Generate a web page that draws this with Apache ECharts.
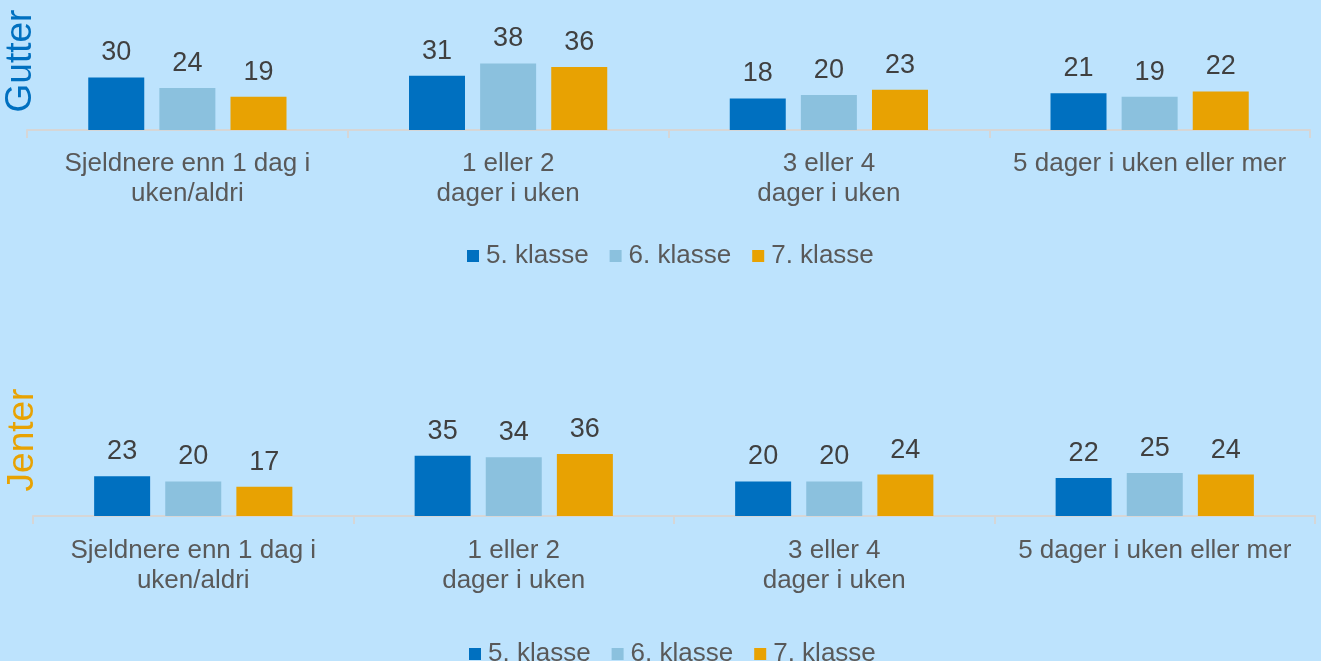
<!DOCTYPE html>
<html><head><meta charset="utf-8">
<script src="https://cdn.jsdelivr.net/npm/echarts@6/dist/echarts.min.js"></script>
<style>html,body{margin:0;padding:0;background:#BDE3FD;}#c{width:1321px;height:661px;}</style>
</head><body><div id="c"></div>
<script>
const categories = ['Sjeldnere enn 1 dag i\nuken/aldri', '1 eller 2\ndager i uken', '3 eller 4\ndager i uken', '5 dager i uken eller mer'];
const seriesNames = ['5. klasse', '6. klasse', '7. klasse'];
const gutter5 = [30, 31, 18, 21];
const gutter6 = [24, 38, 20, 19];
const gutter7 = [19, 36, 23, 22];
const jenter5 = [23, 35, 20, 22];
const jenter6 = [20, 34, 20, 25];
const jenter7 = [17, 36, 24, 24];
const colors = ['#0070C0', '#8BC1DE', '#E8A202'];

const font = 'Arial, "Liberation Sans", sans-serif';
const chart = echarts.init(document.getElementById('c'));
function xAx(gi, m){return {type:'category', gridIndex:gi, data:categories,
  axisLine:{lineStyle:{color:'#D6D6D6', width:2}},
  axisTick:{show:true, length:8, lineStyle:{color:'#D6D6D6', width:2}},
  axisLabel:{color:'#595959', fontSize:26, fontFamily:font, lineHeight:30, margin:m, interval:0}};}
function yAx(gi){return {type:'value', gridIndex:gi, min:0, max:40, show:false, splitLine:{show:false}};}
function bars(data, i, gi){return {name:seriesNames[i], type:'bar', xAxisIndex:gi, yAxisIndex:gi, data:data,
  barWidth:56, barGap:'27%', itemStyle:{color:colors[i]},
  label:{show:true, position:'top', distance:11, color:'#404040', fontSize:27, fontFamily:font}};}
const legendBase = {data:seriesNames, itemWidth:12, itemHeight:12, itemGap:21, icon:'rect',
  textStyle:{color:'#595959', fontSize:26, fontFamily:font, padding:[0,0,0,2]}};
chart.setOption({
  backgroundColor:'#BDE3FD',
  animation:false,
  color:colors,
  grid:[{left:27, right:11, top:60, height:70},{left:33, right:6, top:447, height:69}],
  xAxis:[xAx(0, 19), xAx(1, 20)],
  yAxis:[yAx(0), yAx(1)],
  legend:[Object.assign({top:238, left:462}, legendBase), Object.assign({top:636, left:464}, legendBase)],
  graphic:[
    {type:'text', x:21, y:61, rotation:Math.PI/2, style:{text:'Gutter', fill:'#0070C0', fontSize:37, fontFamily:font, align:'center', verticalAlign:'middle'}},
    {type:'text', x:23, y:440, rotation:Math.PI/2, style:{text:'Jenter', fill:'#E8A202', fontSize:37, fontFamily:font, align:'center', verticalAlign:'middle'}}
  ],
  series:[bars(gutter5,0,0), bars(gutter6,1,0), bars(gutter7,2,0), bars(jenter5,0,1), bars(jenter6,1,1), bars(jenter7,2,1)]
});
</script></body></html>
